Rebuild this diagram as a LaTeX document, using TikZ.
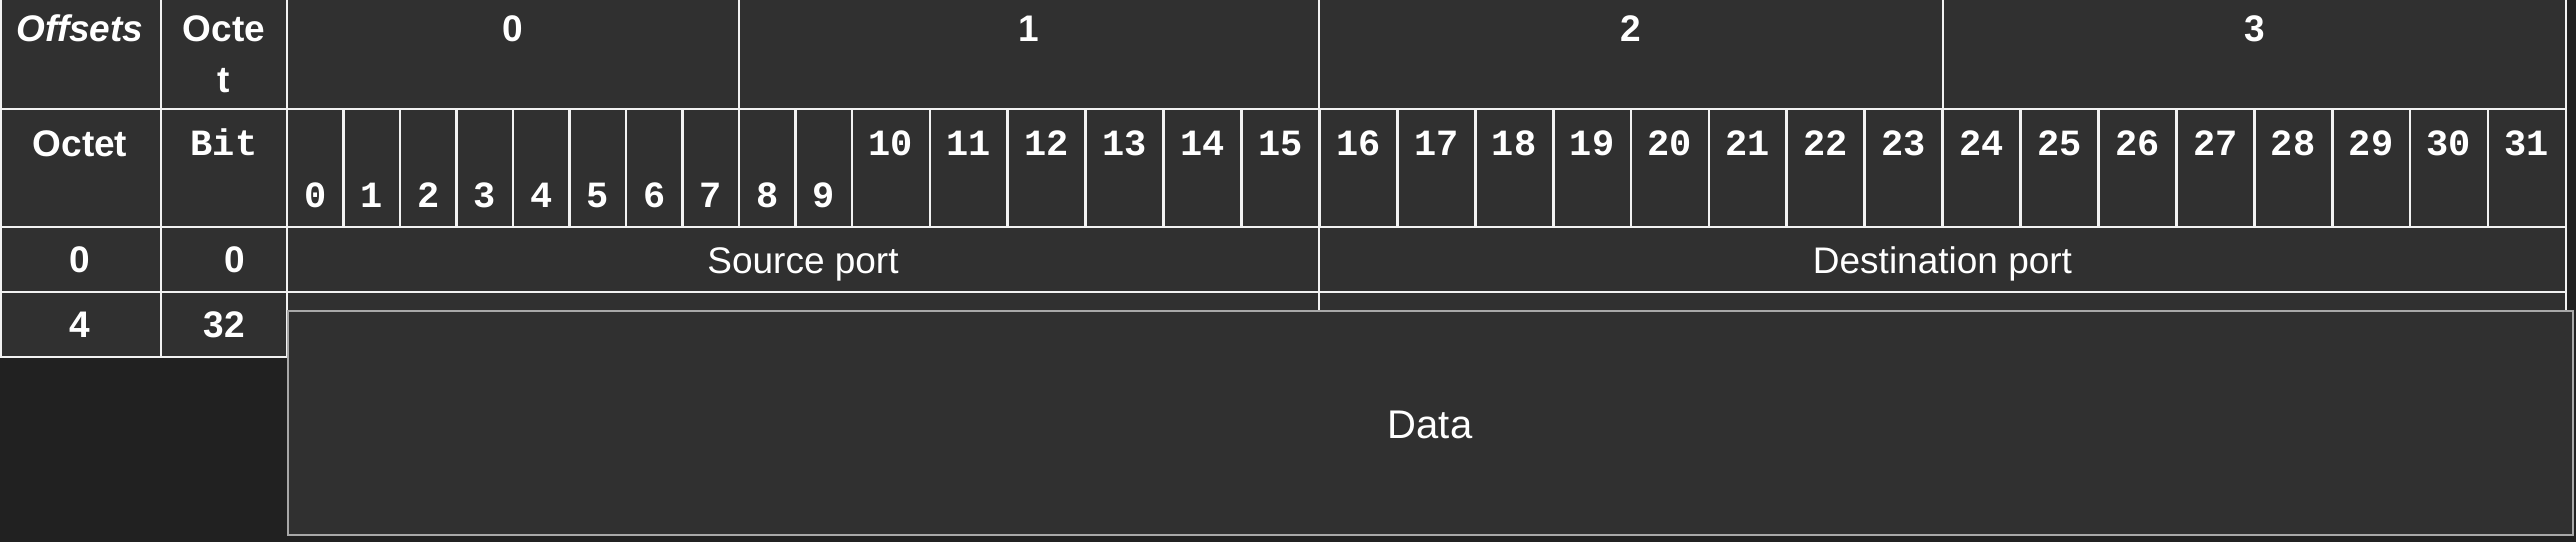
\documentclass[tikz,border=0pt]{standalone}
\usepackage{fontspec}
\setmainfont{Liberation Sans}
\newfontfamily\bitmono{Liberation Mono}
\definecolor{pagebg}{HTML}{212121}
\definecolor{cellbg}{HTML}{303030}
\definecolor{gridc}{HTML}{F2F2F2}
\definecolor{boxc}{HTML}{A8A8A8}
\tikzset{
  gridline/.style={draw=gridc, line width=1.4pt},
  hdr/.style={text=white, font=\fontsize{18.5}{25.5}\selectfont\bfseries, inner sep=0pt, anchor=base},
  hdrit/.style={hdr, font=\fontsize{18.5}{25.5}\selectfont\bfseries\itshape},
  bitlbl/.style={text=white, font=\fontsize{18.5}{22}\selectfont\bitmono\bfseries, inner sep=0pt, anchor=base},
  field/.style={text=white, font=\fontsize{18.5}{22}\selectfont, inner sep=0pt, anchor=base},
  databox/.style={draw=boxc, fill=cellbg, line width=1.4pt},
}
\begin{document}
\begin{tikzpicture}[x=0.5pt,y=-0.5pt]
\useasboundingbox (0,0) rectangle (2576,542);
\fill[pagebg] (0,0) rectangle (2576,542);
\fill[cellbg] (0,0) rectangle (2566,357);
\fill[pagebg] (0,358) rectangle (287,542);
% horizontal grid lines
\draw[gridline] (0,109) -- (2566,109);
\draw[gridline] (0,227) -- (2566,227);
\draw[gridline] (0,292) -- (2566,292);
\draw[gridline] (0,357) -- (287,357);
% vertical grid lines
\draw[gridline] (0.7,0) -- (0.7,357);
\draw[gridline] (161,0) -- (161,357);
\draw[gridline] (287,0) -- (287,357);
\draw[gridline] (739,0) -- (739,227);
\draw[gridline] (1319,0) -- (1319,330);
\draw[gridline] (1943,0) -- (1943,227);
\draw[gridline] (2566,0) -- (2566,330);
\foreach \i in {1,...,10} {
  \pgfmathsetmacro{\xx}{287+56.5*\i}
  \draw[gridline] (\xx,109) -- (\xx,227);
}
\foreach \i in {1,...,21} {
  \pgfmathsetmacro{\xx}{852+77.9*\i}
  \draw[gridline] (\xx,109) -- (\xx,227);
}
% data box
\draw[databox] (288,311) rectangle (2573,535);
% header texts
\node[hdrit] (offsets) at (80,41) {Offsets};
\node[hdr, align=center] (octethdr) at (224,92) {Octe\\t};
\node[hdr] (oct0) at (513,41) {0};
\node[hdr] (oct1) at (1029,41) {1};
\node[hdr] (oct2) at (1631,41) {2};
\node[hdr] (oct3) at (2254.5,41) {3};
\node[hdr] (octetlbl) at (80,156) {Octet};
\node[bitlbl] (bitlbl) at (224,155) {Bit};
\foreach \i in {0,...,9} {
  \pgfmathsetmacro{\xx}{287+56.5*(\i+0.5)}
  \node[bitlbl] (b\i) at (\xx,207) {\i};
}
\foreach \i in {10,...,31} {
  \pgfmathsetmacro{\xx}{852+77.9*(\i-10+0.5)}
  \node[bitlbl] (b\i) at (\xx,155) {\i};
}
% rows
\node[hdr] (r0oct) at (80,272) {0};
\node[hdr, anchor=base east] (r0bit) at (245,272) {0};
\node[field] (srcport) at (803,273) {Source port};
\node[field] (dstport) at (1942.5,273) {Destination port};
\node[hdr] (r1oct) at (80,337) {4};
\node[hdr, anchor=base east] (r1bit) at (245,337) {32};
\node[field, font=\fontsize{20}{24}\selectfont] (data) at (1430,438) {Data};
\end{tikzpicture}
\end{document}
